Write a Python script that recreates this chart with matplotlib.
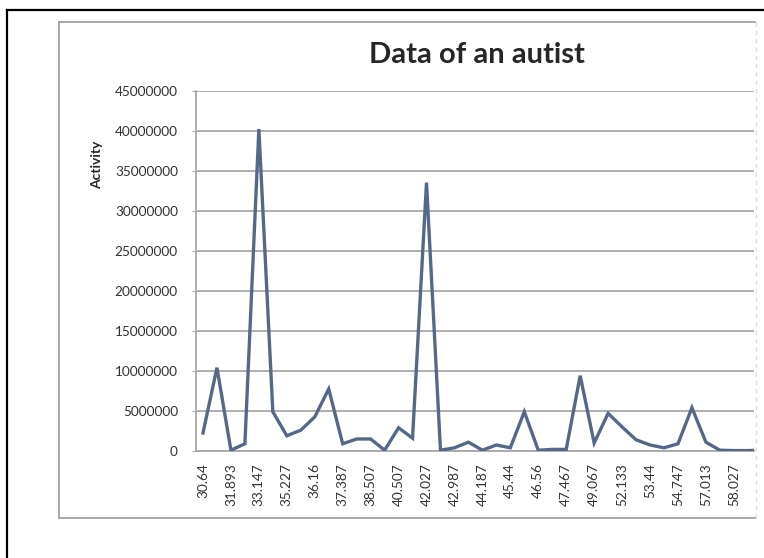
import matplotlib
matplotlib.use("Agg")
import matplotlib.pyplot as plt
from matplotlib.lines import Line2D

# Activity readings, one per time step
activity = [
    2250000, 10400000, 100000, 900000, 40200000, 4900000, 1900000, 2600000,
    4250000, 7750000, 900000, 1500000, 1500000, 100000, 2900000, 1600000,
    33500000, 100000, 400000, 1100000, 100000, 750000, 400000, 4900000,
    100000, 200000, 200000, 9400000, 1000000, 4700000, 3000000, 1400000,
    750000, 400000, 900000, 5400000, 1100000, 100000, 50000, 50000, 100000,
]

# Time labels shown on every second point
tick_labels = [
    "30.64", "31.893", "33.147", "35.227", "36.16", "37.387", "38.507",
    "40.507", "42.027", "42.987", "44.187", "45.44", "46.56", "47.467",
    "49.067", "52.133", "53.44", "54.747", "57.013", "58.027",
]

y_ticks = [0, 5000000, 10000000, 15000000, 20000000, 25000000,
           30000000, 35000000, 40000000, 45000000]

W, H = 764, 558
fig = plt.figure(figsize=(W / 100, H / 100), dpi=100)
fig.patch.set_facecolor("white")

def fx(px):
    return px / W

def fy(py):
    return 1 - py / H

font = "Lato"
text_color = "#333333"
grid_color = "#a8a8a8"

# Outer black border (clipped at right and bottom)
fig.add_artist(Line2D([fx(7), fx(764)], [fy(10), fy(10)], color="black", lw=1.6))
fig.add_artist(Line2D([fx(7), fx(7)], [fy(10), fy(558)], color="black", lw=1.6))

# Chart area frame
fig.add_artist(Line2D([fx(59), fx(755)], [fy(22), fy(22)], color="#a0a0a0", lw=1.3))
fig.add_artist(Line2D([fx(59), fx(59)], [fy(22), fy(518)], color="#a0a0a0", lw=1.3))
fig.add_artist(Line2D([fx(59), fx(755)], [fy(518), fy(518)], color="#a0a0a0", lw=1.3))
fig.add_artist(Line2D([fx(756), fx(756)], [fy(22), fy(518)], color="#dcdcdc", lw=1.0,
                      linestyle=(0, (3, 3))))

left_px, right_px, top_px, bottom_px = 196, 754, 90.5, 451
ax = fig.add_axes([fx(left_px), fy(bottom_px), fx(right_px - left_px),
                   (bottom_px - top_px) / H])

x = list(range(len(activity)))
ax.plot(x, activity, color="#56688a", lw=2.4, solid_joinstyle="miter", zorder=3)

ax.set_xlim(-0.5, -0.5 + (right_px - left_px) / 13.97)
ax.set_ylim(0, 45000000)

ax.set_yticks(y_ticks)
ax.set_yticklabels([str(v) for v in y_ticks], fontfamily=font, fontsize=9.8,
                   color=text_color)
ax.set_xticks(list(range(0, 2 * len(tick_labels), 2)))
ax.set_xticklabels(tick_labels, rotation=90, fontfamily=font, fontsize=9.8,
                   color=text_color, va="top", ha="center")

ax.grid(axis="y", color=grid_color, lw=1.3)
ax.set_axisbelow(True)
for side in ("top", "right"):
    ax.spines[side].set_visible(False)
for side in ("left", "bottom"):
    ax.spines[side].set_color(grid_color)
    ax.spines[side].set_linewidth(1.3)
ax.tick_params(axis="y", length=3, color=grid_color, pad=10)
ax.tick_params(axis="x", length=0, pad=9)

fig.text(fx(477), fy(55), "Data of an autist", ha="center", va="center",
         fontfamily=font, fontweight="bold", fontsize=21, color="#262626")
fig.text(fx(97), fy(165), "Activity", ha="center", va="center", rotation=90,
         fontfamily=font, fontweight="bold", fontsize=10, color="#262626")

fig.savefig("out.png", dpi=100, facecolor="white")
